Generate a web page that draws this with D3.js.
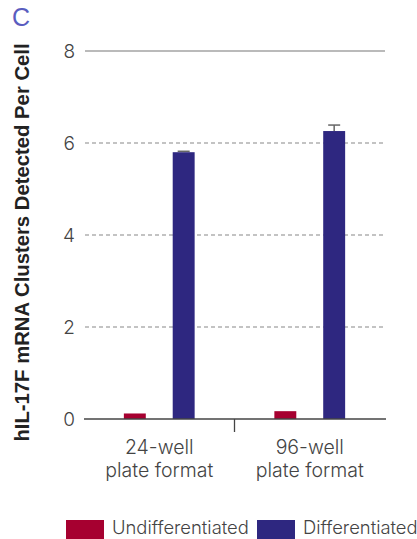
<!DOCTYPE html>
<html><head><meta charset="utf-8">
<script src="https://cdn.jsdelivr.net/npm/d3@7"></script>
<style>body{margin:0;background:#fff}</style>
</head><body>
<svg id="c" width="417" height="539"></svg>
<script>
const categories = ["24-well|plate format", "96-well|plate format"];
const seriesNames = ["Undifferentiated", "Differentiated"];
const undifferentiated = [0.12, 0.17];
const differentiated = [5.80, 6.26];
const diffErrors = [0.02, 0.13];
const undiffErrors = [0, 0];
const yTicks = [0, 2, 4, 6, 8];
const colors = ["#A60030", "#2E2780"];

const svg = d3.select("#c");
const font = "Inter, 'Noto Sans', sans-serif";
const y = d3.scaleLinear().domain([0, 8]).range([419, 51]);
const x0 = d3.scaleBand().domain(categories).range([84, 385]);
const x1 = d3.scaleBand().domain(seriesNames).range([0, x0.bandwidth()]).paddingInner(0.551).paddingOuter(0.816);

// gridlines
svg.append("g").selectAll("line").data(yTicks.filter(d => d > 0)).join("line")
  .attr("x1", 85).attr("x2", 385).attr("y1", d => y(d)).attr("y2", d => y(d))
  .attr("stroke", d => d === 8 ? "#777" : "#888").attr("stroke-width", 1.2)
  .attr("stroke-dasharray", d => d === 8 ? null : "4,3");

// y tick labels
svg.append("g").selectAll("text").data(yTicks).join("text")
  .attr("x", 75).attr("y", d => y(d)).attr("dy", "0.36em").attr("text-anchor", "end")
  .attr("font-family", font).attr("font-weight", 300).attr("font-size", 19).attr("fill", "#444").text(d => d);

const series = [undifferentiated, differentiated];
const errs = [undiffErrors, diffErrors];
seriesNames.forEach((s, si) => {
  svg.append("g").selectAll("rect").data(categories).join("rect")
    .attr("x", (c) => x0(c) + x1(s)).attr("width", x1.bandwidth())
    .attr("y", (c, i) => y(series[si][i])).attr("height", (c, i) => y(0) - y(series[si][i]))
    .attr("fill", colors[si]);
  const eg = svg.append("g");
  categories.forEach((c, i) => {
    const e = errs[si][i];
    if (!e) return;
    const cx = x0(c) + x1(s) + x1.bandwidth() / 2;
    const top = y(series[si][i] + e);
    eg.append("line").attr("x1", cx).attr("x2", cx).attr("y1", y(series[si][i])).attr("y2", top).attr("stroke", "#666").attr("stroke-width", 1.5);
    eg.append("line").attr("x1", cx - 6).attr("x2", cx + 6).attr("y1", top).attr("y2", top).attr("stroke", "#666").attr("stroke-width", 1.5);
  });
});

// x axis
svg.append("line").attr("x1", 84).attr("x2", 386).attr("y1", y(0)).attr("y2", y(0)).attr("stroke", "#444").attr("stroke-width", 1.3);
svg.append("line").attr("x1", x0(categories[1])).attr("x2", x0(categories[1])).attr("y1", y(0)).attr("y2", 432).attr("stroke", "#444").attr("stroke-width", 1.3);
categories.forEach(c => {
  const cx = x0(c) + x0.bandwidth() / 2;
  const t = svg.append("text").attr("text-anchor", "middle")
    .attr("font-family", font).attr("font-weight", 300).attr("font-size", 19.5).attr("fill", "#444");
  c.split("|").forEach((line, i) => t.append("tspan").attr("x", cx).attr("y", 454 + i * 22.5).text(line));
});

// y axis title
svg.append("text").attr("transform", "translate(28.5,242.5) rotate(-90)").attr("text-anchor", "middle")
  .attr("font-family", "'Liberation Sans', Arial, sans-serif").attr("font-weight", "bold").attr("font-size", 20.3)
  .attr("fill", "#222").text("hIL-17F mRNA Clusters Detected Per Cell");

// panel letter
svg.append("text").attr("x", 12).attr("y", 26).attr("font-family", "'Liberation Sans', Arial, sans-serif")
  .attr("font-size", 25).attr("fill", "#5a5dbf").text("C");

// legend
const legX = [66, 257];
seriesNames.forEach((s, i) => {
  svg.append("rect").attr("x", legX[i]).attr("y", 520).attr("width", 38).attr("height", 19).attr("fill", colors[i]);
  svg.append("text").attr("x", legX[i] + 46).attr("y", 534).attr("font-family", font).attr("font-weight", 300).attr("font-size", 18.4)
    .attr("fill", "#444").text(s);
});
</script>
</body></html>
